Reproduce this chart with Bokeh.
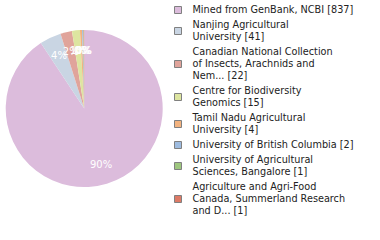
import math
from bokeh.plotting import figure
from bokeh.models import Range1d, ColumnDataSource
from bokeh.core.properties import value
from bokeh.embed import file_html
from bokeh.resources import INLINE

# ---- data ----
names = [
    "Mined from GenBank, NCBI",
    "Nanjing Agricultural University",
    "Canadian National Collection of Insects, Arachnids and Nem...",
    "Centre for Biodiversity Genomics",
    "Tamil Nadu Agricultural University",
    "University of British Columbia",
    "University of Agricultural Sciences, Bangalore",
    "Agriculture and Agri-Food Canada, Summerland Research and D...",
]
counts = [837, 41, 22, 15, 4, 2, 1, 1]
legend_lines = [
    ["Mined from GenBank, NCBI [837]"],
    ["Nanjing Agricultural", "University [41]"],
    ["Canadian National Collection", "of Insects, Arachnids and", "Nem... [22]"],
    ["Centre for Biodiversity", "Genomics [15]"],
    ["Tamil Nadu Agricultural", "University [4]"],
    ["University of British Columbia [2]"],
    ["University of Agricultural", "Sciences, Bangalore [1]"],
    ["Agriculture and Agri-Food", "Canada, Summerland Research", "and D... [1]"],
]
colors = ["#dcbcdc", "#c9d5e3", "#e0a49b", "#dde5a0",
          "#f3b37f", "#9ebce0", "#9ec77f", "#dd7a66"]

W, H = 372, 232
p = figure(width=W, height=H, output_backend="svg", toolbar_location=None,
           x_range=Range1d(0, W), y_range=Range1d(0, H),
           min_border=0)
p.axis.visible = False
p.grid.visible = False
p.outline_line_color = None
p.background_fill_color = None
p.border_fill_color = None

def Y(img_y):
    return H - img_y

# ---- pie ----
cx, cy, r = 83.7, Y(108.0), 78.5
total = sum(counts)
starts, ends, mids = [], [], []
cum = 0
for c in counts:
    a0 = math.pi / 2 - 2 * math.pi * cum / total
    cum += c
    a1 = math.pi / 2 - 2 * math.pi * cum / total
    starts.append(a0)
    ends.append(a1)
    mids.append((a0 + a1) / 2)

src = ColumnDataSource(dict(start=starts, end=ends, color=colors))
p.wedge(x=cx, y=cy, radius=r, start_angle="start", end_angle="end",
        direction="clock", fill_color="color", line_color=None, source=src)

lr = 0.745 * r
pct = [f"{int(100 * c / total)}%" for c in counts]
p.text(x=[cx + lr * math.cos(a) for a in mids],
       y=[cy + lr * math.sin(a) for a in mids],
       text=pct, text_color="white", text_font=value("DejaVu Sans"),
       text_font_size="10px", text_align="center", text_baseline="middle")

# ---- legend ----
line_step = 12.0
item_step = 15.0
ty = 8.5
tys, texts = [], []
sq_y = []
for lines in legend_lines:
    first = ty
    for ln in lines:
        tys.append(Y(ty))
        texts.append(ln)
        ty += line_step
    last = ty - line_step
    sq_y.append(Y((first + last) / 2 + 1))
    ty = last + item_step

p.rect(x=[177.5] * len(colors), y=sq_y, width=7, height=7,
       fill_color=colors, line_color="#808080", line_width=1)
p.text(x=[192] * len(texts), y=tys, text=texts, text_color="#222222",
       text_font=value("DejaVu Sans"), text_font_size="9.7px",
       text_align="left", text_baseline="middle")

open("out.html", "w").write(file_html(p, INLINE))
